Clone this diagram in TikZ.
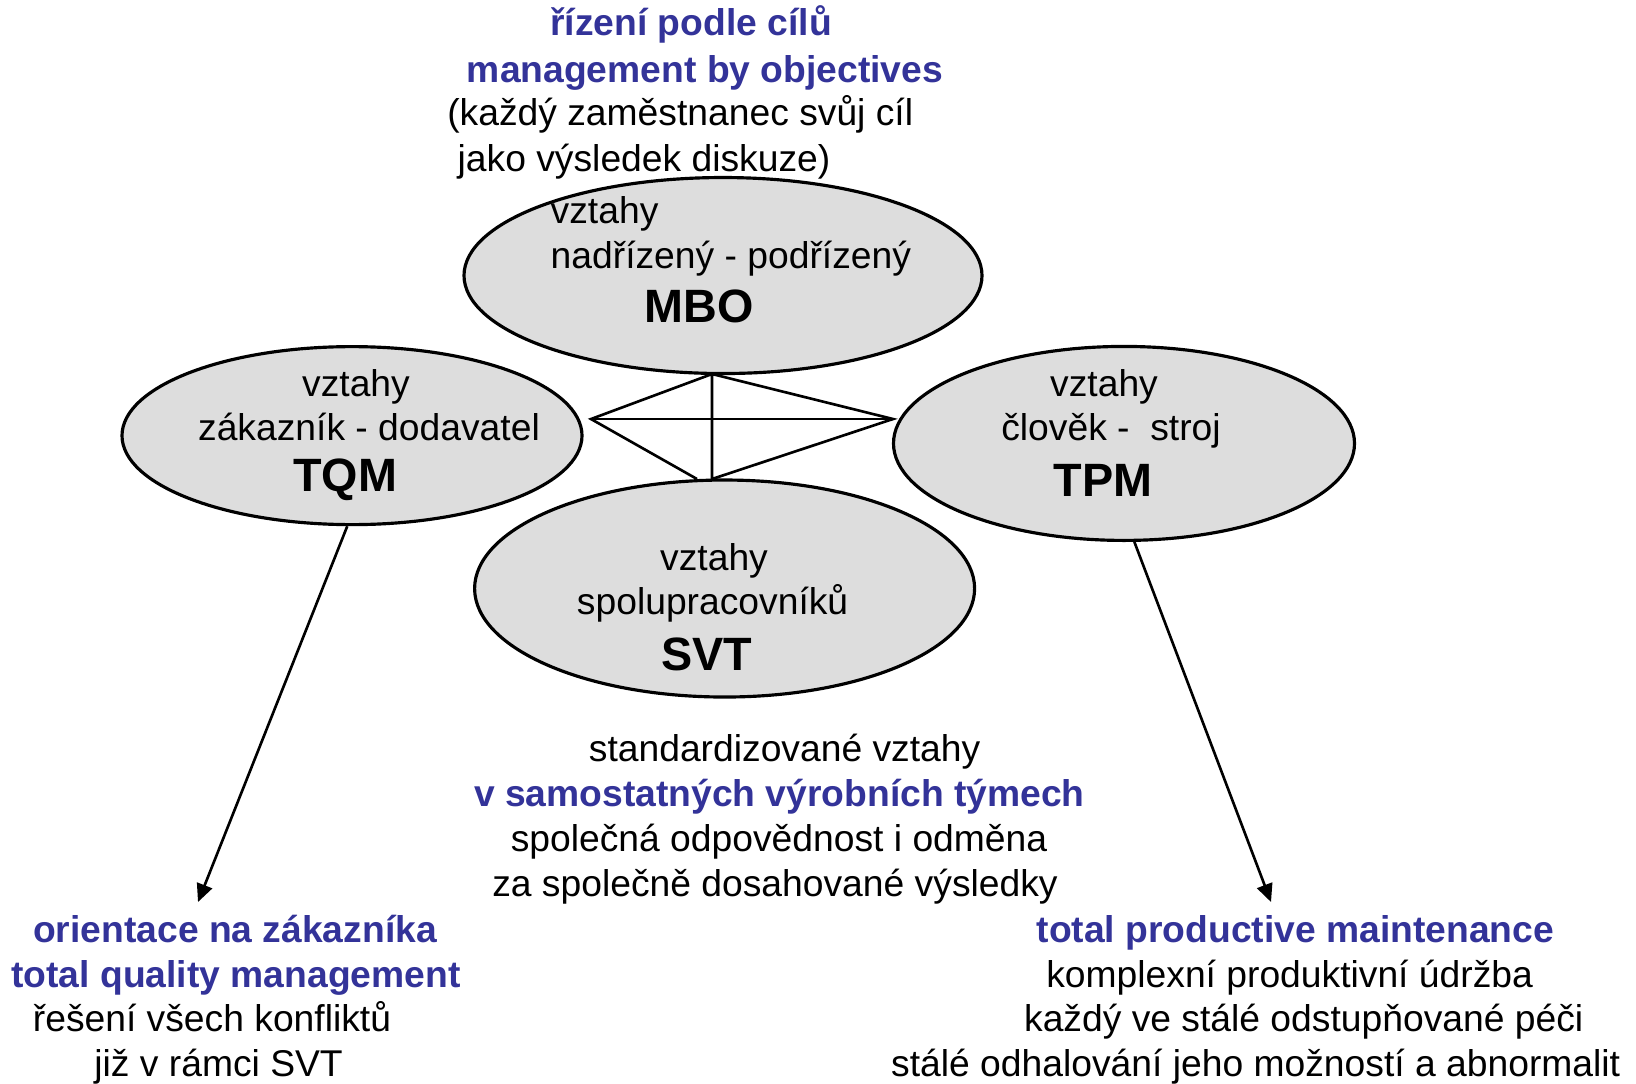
\documentclass[tikz,border=0pt]{standalone}
\usepackage{fontspec}
\setmainfont{Liberation Sans}
\usetikzlibrary{positioning}
\usetikzlibrary{shapes.geometric}
\usetikzlibrary{arrows.meta}
\definecolor{ovalgray}{RGB}{221,221,221}
\definecolor{objblue}{RGB}{51,51,153}

\begin{document}
\begin{tikzpicture}[x=0.1mm,y=-0.1mm,
	oval/.style={ellipse,draw,fill=ovalgray,line width=0.9pt,inner sep=0pt},
	txt/.style={inner sep=0pt,yshift=-0.3mm,text height=7.6pt,text depth=2.2pt,font=\fontsize{10.6}{12.8}\selectfont},
	hd/.style={txt,text=objblue,font=\fontsize{10.6}{12.8}\selectfont\bfseries},
	abbr/.style={inner sep=0pt,yshift=-0.1mm,font=\fontsize{13.3}{16}\selectfont\bfseries},
	link/.style={line width=0.75pt,line join=miter},
	arr/.style={line width=0.75pt,-{Triangle[length=1.8mm,width=1.6mm]}}]
	\useasboundingbox (0,0) rectangle (1636,1083);
	% ovaly
	\node[oval,minimum width=51.8mm,minimum height=19.6mm] (mbo) at (723,275.5) {};
	\node[oval,minimum width=46mm,minimum height=17.8mm] (tqm) at (352,435.6) {};
	\node[oval,minimum width=46.1mm,minimum height=19.4mm] (tpm) at (1124,443.4) {};
	\node[oval,minimum width=50mm,minimum height=21.7mm] (svt) at (724.6,588.5) {};
	% kosoctverec mezi ovaly
	\coordinate (dt) at (712,374);
	\coordinate (dl) at (591,419);
	\coordinate (dr) at (893,419);
	\coordinate (dbl) at (697,479);
	\coordinate (db) at (712,479);
	\draw[link] (dbl) -- (dl) -- (dt) -- (dr) -- (db) -- (dt);
	\draw[link] (dl) -- (dr);
	% sipky dolu
	\coordinate (tqmend) at (198,902);
	\coordinate (tpmend) at (1271,902);
	\draw[arr] (tqm.-93) -- (tqmend);
	\draw[arr] (tpm.-84) -- (tpmend);
	% MBO
	\node[hd] (mbo1) at (691,23) {řízení podle cílů};
	\node[hd] (mbo2) at (705,70) {management by objectives};
	\node[txt,anchor=west] (mbo3) at (446.6,112.7) {(každý zaměstnanec svůj cíl};
	\node[txt,anchor=west] (mbo4) at (457,158.6) {jako výsledek diskuze)};
	\node[txt,anchor=west] (mbov) at (550,211) {vztahy};
	\node[txt,anchor=west] (mbor) at (550,255.6) {nadřízený - podřízený};
	\node[abbr] (mbol) at (699,305.7) {MBO};
	% TQM
	\node[txt] (tqmv) at (356,384) {vztahy};
	\node[txt] (tqmr) at (369,428) {zákazník - dodavatel};
	\node[abbr] (tqml) at (345,479) {TQM};
	\node[hd] (tqm1) at (235,930) {orientace na zákazníka};
	\node[hd] (tqm2) at (236,974.5) {total quality management};
	\node[txt] (tqm3) at (212,1019) {řešení všech konfliktů};
	\node[txt] (tqm4) at (218.6,1064) {již v rámci SVT};
	% TPM
	\node[txt] (tpmv) at (1104,384) {vztahy};
	\node[txt] (tpmr) at (1111,428) {člověk -\ \ stroj};
	\node[abbr] (tpml) at (1103,479) {TPM};
	\node[hd] (tpm1) at (1295.4,930) {total productive maintenance};
	\node[txt] (tpm2) at (1289.6,974.5) {komplexní produktivní údržba};
	\node[txt] (tpm3) at (1303.7,1019) {každý ve stálé odstupňované péči};
	\node[txt] (tpm4) at (1255.7,1064) {stálé odhalování jeho možností a abnormalit};
	% SVT
	\node[txt] (svtv) at (714,558) {vztahy};
	\node[txt] (svtr) at (712.6,602) {spolupracovníků};
	\node[abbr] (svtl) at (707,653) {SVT};
	\node[txt] (svt1) at (784.6,749) {standardizované vztahy};
	\node[hd] (svt2) at (779.4,794) {v samostatných výrobních týmech};
	\node[txt] (svt3) at (779,839) {společná odpovědnost i odměna};
	\node[txt] (svt4) at (775,884) {za společně dosahované výsledky};
\end{tikzpicture}
\end{document}
